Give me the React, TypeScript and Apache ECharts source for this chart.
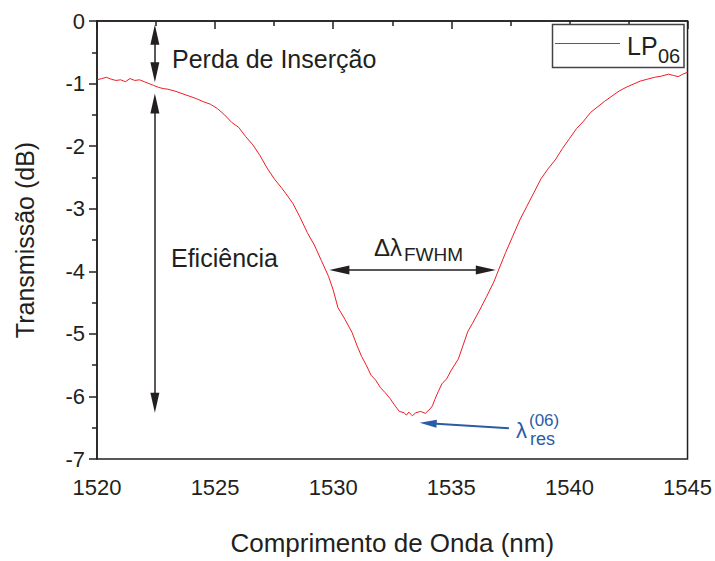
import React, { useEffect, useRef } from "react";
import * as echarts from "echarts";

const wavelength = [
  1520.0, 1520.2, 1520.4, 1520.6, 1520.8, 1521.0, 1521.2, 1521.4, 1521.6, 1521.8,
  1522.0, 1522.2, 1522.4, 1522.6, 1522.8, 1523.0, 1523.3, 1523.6, 1523.9, 1524.2,
  1524.5, 1524.8, 1525.1, 1525.4, 1525.7, 1526.0, 1526.3, 1526.6, 1526.9, 1527.2,
  1527.5, 1527.8, 1528.0, 1528.3, 1528.6, 1528.9, 1529.2, 1529.5, 1529.8, 1530.0,
  1530.2, 1530.5, 1530.8, 1531.0, 1531.2, 1531.4, 1531.6, 1531.8, 1532.0, 1532.2,
  1532.4, 1532.6, 1532.8, 1533.0, 1533.1, 1533.2, 1533.35, 1533.5, 1533.7, 1533.9,
  1534.1, 1534.2, 1534.3, 1534.45, 1534.6, 1534.8, 1535.0, 1535.3, 1535.5, 1535.7,
  1535.9, 1536.2, 1536.5, 1536.8, 1537.0, 1537.3, 1537.6, 1537.9, 1538.2, 1538.5,
  1538.8, 1539.1, 1539.4, 1539.7, 1540.0, 1540.3, 1540.6, 1540.9, 1541.2, 1541.5,
  1541.8, 1542.1, 1542.4, 1542.7, 1543.0, 1543.3, 1543.6, 1543.9, 1544.2, 1544.4,
  1544.6, 1544.8, 1545.0,
];

const transmission = [
  -0.94, -0.92, -0.9, -0.93, -0.95, -0.94, -0.97, -0.92, -0.95, -0.94,
  -0.97, -1.0, -1.03, -1.06, -1.08, -1.09, -1.12, -1.16, -1.2, -1.24,
  -1.29, -1.33, -1.4, -1.5, -1.62, -1.7, -1.85, -1.98, -2.15, -2.35,
  -2.52, -2.66, -2.76, -2.92, -3.14, -3.38, -3.58, -3.83, -4.08, -4.3,
  -4.58, -4.77, -4.98, -5.18, -5.36, -5.5, -5.66, -5.74, -5.86, -5.94,
  -6.03, -6.14, -6.24, -6.26, -6.3, -6.25, -6.31, -6.26, -6.24, -6.27,
  -6.2, -6.15, -6.05, -5.92, -5.8, -5.72, -5.58, -5.4, -5.18, -4.96,
  -4.83, -4.62, -4.4, -4.17, -3.98, -3.7, -3.44, -3.18, -2.96, -2.74,
  -2.52, -2.36, -2.22, -2.04, -1.88, -1.72, -1.6, -1.46, -1.37, -1.28,
  -1.2, -1.12, -1.06, -1.01, -0.96, -0.93, -0.9, -0.88, -0.85, -0.87,
  -0.89, -0.85, -0.82,
];

const seriesName = "LP06";
const xAxisTitle = "Comprimento de Onda (nm)";
const yAxisTitle = "Transmissão (dB)";

// annotation arrows: [x1, y1, x2, y2] in data units
const insertionArrow = [1522.45, -0.22, 1522.45, -0.82];
const efficiencyArrow = [1522.45, -1.32, 1522.45, -6.1];
const fwhmArrow = [1530.26, -3.98, 1536.46, -3.98];
const resonanceArrow = [1537.44, -6.51, 1534.02, -6.43];

const FONT = "Arial, 'Liberation Sans', Helvetica, sans-serif";
const INK = "#231f20";
const BLUE = "#2a5ca8";
const RED = "#ee1c25";

export default function App() {
  const ref = useRef<HTMLDivElement>(null);

  useEffect(() => {
    if (!ref.current) return;
    const chart = echarts.init(ref.current, null, { renderer: "svg" });
    const arrowPath = "path://M0,0L5,20L-5,20Z";

    const option: any = {
      animation: false,
      backgroundColor: "#ffffff",
      textStyle: { fontFamily: FONT, color: INK },
      grid: {
        left: 97,
        top: 21,
        right: 26,
        bottom: 98,
        show: true,
        borderColor: INK,
        borderWidth: 1.5,
        backgroundColor: "transparent",
      },
      xAxis: {
        type: "value",
        min: 1520,
        max: 1545,
        interval: 5,
        name: xAxisTitle,
        nameLocation: "middle",
        nameGap: 71,
        nameTextStyle: { fontSize: 26, color: INK, fontFamily: FONT },
        axisLine: { show: true, lineStyle: { color: INK, width: 1.5 } },
        axisTick: { show: true, inside: false, length: 8, lineStyle: { color: INK, width: 1.5 } },
        minorTick: { show: true, splitNumber: 2, length: 5, lineStyle: { color: INK, width: 1.5 } },
        axisLabel: {
          fontSize: 22,
          color: INK,
          fontFamily: FONT,
          margin: 17,
          formatter: (v: number) => String(v),
        },
        splitLine: { show: false },
      },
      yAxis: {
        type: "value",
        min: -7,
        max: 0,
        interval: 1,
        name: yAxisTitle,
        nameLocation: "middle",
        nameGap: 60,
        nameTextStyle: { fontSize: 25, color: INK, fontFamily: FONT },
        axisLine: { show: true, lineStyle: { color: INK, width: 1.5 } },
        axisTick: { show: true, inside: false, length: 8, lineStyle: { color: INK, width: 1.5 } },
        minorTick: { show: true, splitNumber: 2, length: 5, lineStyle: { color: INK, width: 1.5 } },
        axisLabel: {
          fontSize: 22,
          color: INK,
          fontFamily: FONT,
          margin: 12,
          formatter: (v: number) => String(v),
        },
        splitLine: { show: false },
      },
      series: [
        {
          name: seriesName,
          type: "line",
          data: wavelength.map((w, i) => [w, transmission[i]]),
          showSymbol: false,
          symbol: "none",
          lineStyle: { color: RED, width: 1 },
          itemStyle: { color: RED },
          markLine: {
            silent: true,
            animation: false,
            label: { show: false },
            symbol: [arrowPath, arrowPath],
            symbolSize: [9, 20],
            lineStyle: { color: INK, width: 1.5, type: "solid" },
            data: [
              [
                { coord: [insertionArrow[0], insertionArrow[1]] },
                { coord: [insertionArrow[2], insertionArrow[3]] },
              ],
              [
                { coord: [efficiencyArrow[0], efficiencyArrow[1]] },
                { coord: [efficiencyArrow[2], efficiencyArrow[3]] },
              ],
              [
                { coord: [fwhmArrow[0], fwhmArrow[1]] },
                { coord: [fwhmArrow[2], fwhmArrow[3]] },
              ],
              [
                {
                  coord: [resonanceArrow[0], resonanceArrow[1]],
                  symbol: "none",
                  lineStyle: { color: BLUE, width: 2 },
                },
                {
                  coord: [resonanceArrow[2], resonanceArrow[3]],
                  symbol: arrowPath,
                  symbolSize: [8, 17],
                  itemStyle: { color: BLUE },
                },
              ],
            ],
          },
        },
      ],
      graphic: [
        // legend box
        {
          type: "rect",
          shape: { x: 552.5, y: 24.5, width: 131.5, height: 43 },
          style: { fill: "#fff", stroke: "#444", lineWidth: 1.5 },
          z: 100,
        },
        {
          type: "line",
          shape: { x1: 555, y1: 43.5, x2: 620, y2: 43.5 },
          style: { stroke: RED, lineWidth: 1 },
          z: 101,
        },
        {
          type: "text",
          x: 627,
          y: 45.5,
          style: { text: "LP", font: `25px ${FONT}`, fill: INK, verticalAlign: "middle" },
          z: 101,
        },
        {
          type: "text",
          x: 658,
          y: 55.5,
          style: { text: "06", font: `20px ${FONT}`, fill: INK, verticalAlign: "middle" },
          z: 101,
        },
        // annotations
        {
          type: "text",
          x: 172,
          y: 58.5,
          style: { text: "Perda de Inserção", font: `25px ${FONT}`, fill: INK, verticalAlign: "middle" },
        },
        {
          type: "text",
          x: 171,
          y: 258,
          style: { text: "Eficiência", font: `25px ${FONT}`, fill: INK, verticalAlign: "middle" },
        },
        {
          type: "text",
          x: 374,
          y: 247.5,
          style: { text: "Δλ", font: `24px ${FONT}`, fill: INK, verticalAlign: "middle" },
        },
        {
          type: "text",
          x: 404,
          y: 254,
          style: { text: "FWHM", font: `19px ${FONT}`, fill: INK, verticalAlign: "middle" },
        },
        {
          type: "text",
          x: 516,
          y: 430,
          style: { text: "λ", font: `22px ${FONT}`, fill: BLUE, verticalAlign: "middle" },
        },
        {
          type: "text",
          x: 529,
          y: 420,
          style: { text: "(06)", font: `17px ${FONT}`, fill: BLUE, verticalAlign: "middle" },
        },
        {
          type: "text",
          x: 530,
          y: 439,
          style: { text: "res", font: `18px ${FONT}`, fill: BLUE, verticalAlign: "middle" },
        },
      ],
    };

    chart.setOption(option);
    return () => chart.dispose();
  }, []);

  return (
    <div
      ref={ref}
      style={{ position: "fixed", left: 0, top: 0, width: 715, height: 561, background: "#fff" }}
    />
  );
}
